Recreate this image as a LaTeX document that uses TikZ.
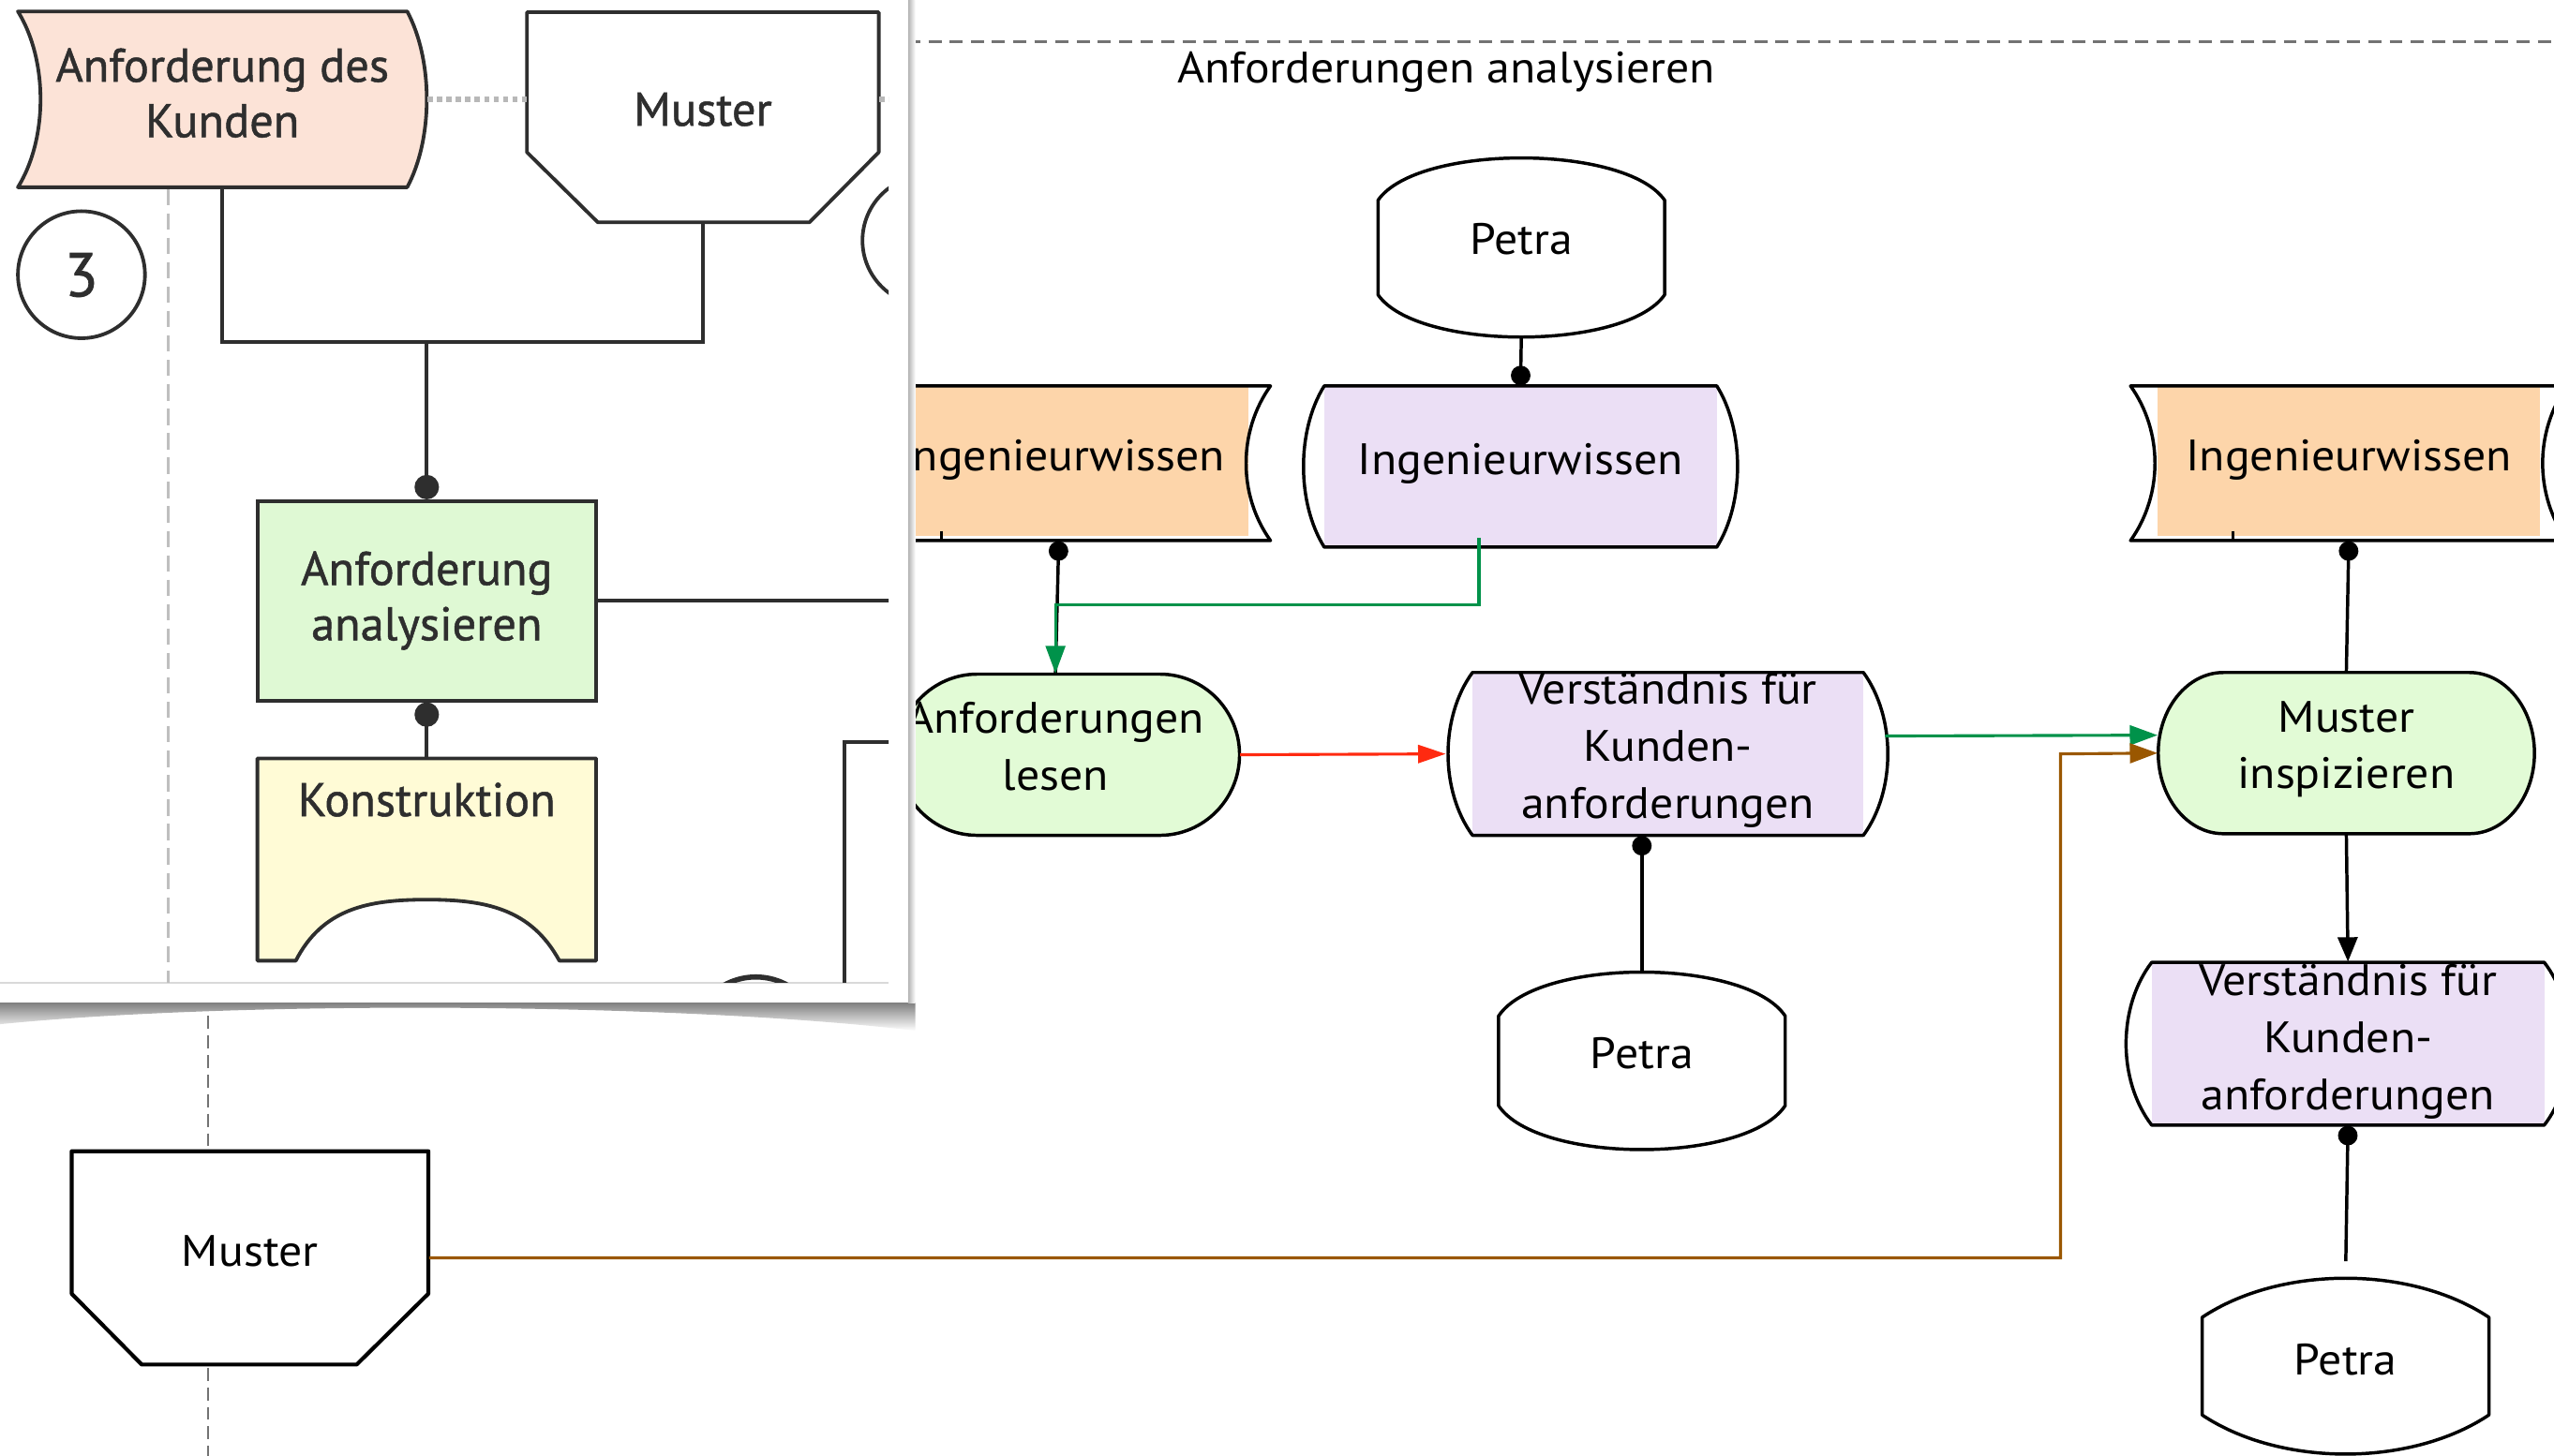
\documentclass[tikz,border=0pt]{standalone}
\usepackage{fontspec}
\setmainfont{PT Sans}[FakeStretch=1.06]
\newfontfamily\insetfont{PT Sans}[FakeBold=1]
\usetikzlibrary{arrows.meta}

\pgfdeclarelayer{shapes}
\pgfdeclarelayer{panel}
\pgfdeclarelayer{paneltop}
\pgfsetlayers{shapes,main,panel,paneltop}

\definecolor{lavc}{HTML}{EBDFF5}
\definecolor{orc}{HTML}{FDD5AA}
\definecolor{grc}{HTML}{E2FBD6}
\definecolor{pinkc}{HTML}{FCE3D7}
\definecolor{igrc}{HTML}{DFF9D4}
\definecolor{yelc}{HTML}{FFFBD6}
\definecolor{garr}{HTML}{00924A}
\definecolor{rarr}{HTML}{FF2A10}
\definecolor{barr}{HTML}{9A5700}
\definecolor{inkc}{HTML}{2E2E2E}

\newcommand{\mainsz}{\fontsize{13.5pt}{17.5pt}\selectfont}
\newcommand{\insetsz}{\insetfont\fontsize{14.5pt}{17pt}\selectfont}
% text block whose last baseline sits #1 above the node centre
\newcommand{\lifted}[2]{\raisebox{#1}[0pt][0pt]{\begin{tabular}[b]{@{}c@{}}#2\end{tabular}}}

% outlines drawn around named nodes, coordinates relative to the node centre
\newcommand{\lensshape}[4]{%
  \fill[lavc,shift={(#1.center)}] (-#2,-#3) rectangle (#2,#3);
  \draw[shapeline,shift={(#1.center)}] (-#2,-#3) -- (#2,-#3)
    .. controls ({#2+#4},{-0.45*#3}) and ({#2+#4},{0.45*#3}) .. (#2,#3)
    -- (-#2,#3)
    .. controls ({-#2-#4},{0.45*#3}) and ({-#2-#4},{-0.45*#3}) .. (-#2,-#3) -- cycle;}
\newcommand{\concaveshape}[4]{%
  \fill[orc] (#1.north west) rectangle (#1.south east);
  \draw[shapeline,shift={(#1.center)}] (-#2,-46) -- (#2,-46)
    .. controls ({#2-#3},-18) and ({#2-#3},21) .. (#2,49)
    -- (-#2,49)
    .. controls ({-#2+#3},21) and ({-#2+#3},-18) .. (-#2,-46) -- cycle;
  \draw[shapeline,shift={(#1.center)}] (#4,43) -- (#4,49);}
\newcommand{\petrashape}[4]{%
  \draw[shapeline,shift={(#1.center)}] (-88,{-#2+#3})
    .. controls (-#4,{-#2-#3/3}) and (#4,{-#2-#3/3}) .. (88,{-#2+#3})
    -- (88,{#2-#3})
    .. controls (#4,{#2+#3/3}) and (-#4,{#2+#3/3}) .. (-88,{#2-#3}) -- cycle;}
\newcommand{\stadiumshape}[4]{%
  \draw[shapeline,fill=grc,shift={(#1.center)}] ({-#2+#4},-#3) -- ({#2-#4},-#3)
    .. controls ({#2-0.4477*#4},-#3) and (#2,{-0.5523*#3}) .. (#2,0)
    .. controls (#2,{0.5523*#3}) and ({#2-0.4477*#4},#3) .. ({#2-#4},#3)
    -- ({-#2+#4},#3)
    .. controls ({-#2+0.4477*#4},#3) and (-#2,{0.5523*#3}) .. (-#2,0)
    .. controls (-#2,{-0.5523*#3}) and ({-#2+0.4477*#4},-#3) .. ({-#2+#4},-#3) -- cycle;}

\begin{document}
\begin{tikzpicture}[x=0.5pt,y=-0.5pt,
  lbl/.style={inner sep=0pt, font=\mainsz, text=black},
  ilbl/.style={inner sep=0pt, font=\insetsz, text=inkc},
  shapeline/.style={draw=black, line width=1pt, line join=round},
  link/.style={draw=black, line width=1pt},
  dotS/.style={{Circle[length=6pt]}-},
  dotE/.style={-{Circle[length=6pt]}},
  garrow/.style={draw=garr, line width=0.9pt, -{Triangle[length=8.5pt,width=6pt]}},
  rarrow/.style={draw=rarr, line width=0.9pt, -{Triangle[length=8.5pt,width=5.5pt]}},
  barrow/.style={draw=barr, line width=0.9pt, -{Triangle[length=8.5pt,width=6pt]}},
  karrow/.style={-{Triangle[length=7.5pt,width=6pt]}},
  ilink/.style={draw=inkc, line width=1.1pt},
  idotS/.style={{Circle[length=7.5pt]}-},
  idotE/.style={-{Circle[length=7.5pt]}},
  idotted/.style={draw=black!28, line width=1.6pt, dash pattern=on 1.6pt off 1.3pt},
  topdash/.style={draw=black!55, line width=1pt, dash pattern=on 4pt off 2.5pt},
  lanedash/.style={draw=black!55, line width=0.6pt, dash pattern=on 4pt off 2pt},
  insetdash/.style={draw=black!25, line width=0.8pt, dash pattern=on 5pt off 2.5pt}]

\useasboundingbox (0,0) rectangle (1568,894);

% ---------- process chain: nodes ----------
\node[lbl] (title) at (888,44) {Anforderungen analysieren};
\node[lbl, minimum width=88pt, minimum height=55pt] (pt1) at (934,152) {\lifted{-2.2pt}{Petra}};
\node[lbl, minimum width=120.5pt, minimum height=49.5pt] (lv1) at (933.5,286.5) {\lifted{-2.45pt}{Ingenieurwissen}};
\node[lbl, minimum width=116pt, minimum height=46pt] (or1) at (650,283) {\kern2pt\lifted{-3.2pt}{Ingenieurwissen}};
\node[lbl, minimum width=117pt, minimum height=46pt] (or2) at (1442,283) {\lifted{-3.2pt}{Ingenieurwissen}};
\node[lbl, minimum width=105pt, minimum height=49.5pt] (al) at (656,463.5) {\kern-8pt\lifted{-10.95pt}{Anforderungen\\lesen}};
\node[lbl, minimum width=120pt, minimum height=50pt] (vs1) at (1024,463) {\lifted{-19.7pt}{Verständnis für\\Kunden-\\anforderungen}};
\node[lbl, minimum width=88pt, minimum height=54.5pt] (pt2) at (1008,651.5) {\lifted{-2.45pt}{Petra}};
\node[lbl, minimum width=115.5pt, minimum height=49.5pt] (mi) at (1440.5,462.5) {\lifted{-10.95pt}{Muster\\inspizieren}};
\node[lbl, minimum width=120.5pt, minimum height=50pt] (vs2) at (1441.5,641) {\lifted{-20.2pt}{Verständnis für\\Kunden-\\anforderungen}};
\node[lbl, minimum width=88pt, minimum height=54pt] (pt3) at (1440,839) {\lifted{-2.7pt}{Petra}};
\node[lbl, minimum width=109.5pt, minimum height=65.5pt] (mu2) at (153.5,772.5) {\lifted{-2.45pt}{Muster}};
\coordinate (bx) at (1265,463);

% ---------- process chain: connectors ----------
\draw[link,dotE] (pt1.south) -- (lv1.north);
\draw[link,dotS] ([yshift=-1.5pt]or1.south) -- ([xshift=-4pt]al.north);
\draw[garrow] ([xshift=-12.75pt,yshift=3pt]lv1.south) -- ++(0,41) -| ([xshift=-4pt]al.north);
\draw[rarrow] (al.east) -- ([xshift=-8pt]vs1.west);
\draw[link,dotS] (vs1.south -| pt2.north) -- (pt2.north);
\draw[garrow] ([xshift=6.5pt,yshift=5.5pt]vs1.east) -- ([yshift=5.5pt]mi.west);
\draw[barrow] (mu2.east) -| (bx) -- (mi.west);
\draw[link,dotS] ([yshift=-1.5pt]or2.south) -- (mi.north);
\draw[link,karrow] (mi.south) -- (vs2.north);
\draw[link,dotS,shorten >=5pt] (vs2.south) -- (pt3.north);

% ---------- process chain: shapes ----------
\begin{pgfonlayer}{shapes}
  \draw[topdash] (557,25.5) -- (1568,25.5);
  \draw[lanedash] (128,612) -- (128,894);
  \petrashape{pt1}{55}{26}{64}
  \lensshape{lv1}{120.5}{49.5}{17}
  \concaveshape{or1}{130}{20}{-72}
  \concaveshape{or2}{134}{20}{-71}
  \stadiumshape{al}{105}{49.5}{49}
  \lensshape{vs1}{120}{50}{20}
  \petrashape{pt2}{54.5}{27}{64}
  \stadiumshape{mi}{115.5}{49.5}{40}
  \lensshape{vs2}{120.5}{50}{21}
  \petrashape{pt3}{54}{24}{40}
  \draw[shapeline,line width=1.2pt,fill=white,shift={(mu2.center)}]
    (-109.5,-65.5) -- (109.5,-65.5) -- (109.5,22) -- (65.5,65.5)
    -- (-66.5,65.5) -- (-109.5,22) -- cycle;
\end{pgfonlayer}

% ---------- overview panel: nodes and connectors ----------
\begin{pgfonlayer}{paneltop}
\begin{scope}
  \clip (0,0) rectangle (545.6,603.5);
  \node[ilbl, minimum width=125.5pt, minimum height=54pt] (pink) at (136.5,61) {\lifted{-11.6pt}{Anforderung des\\Kunden}};
  \node[ilbl, minimum width=108pt, minimum height=64.5pt] (mus1) at (431.5,72) {\lifted{-2.6pt}{Muster}};
  \node[ilbl, circle, draw=inkc, line width=1.1pt, minimum size=39pt, font=\insetfont\fontsize{19pt}{22pt}\selectfont] (c3) at (50,168.7) {\lifted{-6.65pt}{3}};
  \node[ilbl, draw=inkc, fill=igrc, line width=1.1pt, minimum width=104pt, minimum height=61.25pt] (ana) at (262,369) {\lifted{-12.1pt}{Anforderung\\analysieren}};
  \node[ilbl, minimum width=104pt, minimum height=62.25pt] (kon) at (262,528) {\lifted{13.4pt}{Konstruktion}};
  \node[circle, draw=inkc, line width=1.1pt, minimum size=40pt, inner sep=0pt] (cr) at (569.5,147.7) {};
  \node[circle, draw=inkc, line width=1.6pt, minimum size=40pt, inner sep=0pt] (cb) at (464,640) {};
  \node[draw=inkc, line width=1.1pt, minimum width=104pt, minimum height=100pt] (rb) at (622.5,555.8) {};
  \coordinate (jn) at (262,210);
  \coordinate (anaout) at (620,369);
  \draw[ilink] (pink.south) |- (jn) -| (mus1.south);
  \draw[ilink,idotE] (jn) -- (ana.north);
  \draw[ilink,idotS] (ana.south) -- (kon.north);
  \draw[ilink] (ana.east) -- (anaout);
  \draw[idotted] (pink.east) -- (pink.east -| mus1.west);
  \draw[idotted] (pink.east -| mus1.east) -- ++(25,0);
\end{scope}
\end{pgfonlayer}

% ---------- overview panel: sheet, shadow and shapes ----------
\begin{pgfonlayer}{panel}
  \shade[top color=black!55, bottom color=white]
    (0,615) -- (562,615) -- (562,633) .. controls (420,616) and (150,614) .. (0,629) -- cycle;
  \shade[left color=black!30, right color=white] (557.5,0) rectangle (562,616);
  \fill[white] (0,0) rectangle (557.5,615.6);
  \draw[black!15, line width=0.5pt] (0,603.5) -- (545.6,603.5);
  \begin{scope}
    \clip (0,0) rectangle (545.6,603.5);
    \draw[insetdash] (103.5,116) -- (103.5,603.5);
    \draw[ilink, fill=pinkc, line join=round, shift={(pink.center)}]
      (-125.5,-54) -- (113.5,-54) .. controls (129.5,-24) and (129.5,24) .. (113.5,54)
      -- (-125.5,54) .. controls (-107,24) and (-107,-24) .. (-125.5,-54) -- cycle;
    \draw[ilink, fill=white, line join=round, shift={(mus1.center)}]
      (-108,-64.5) -- (108,-64.5) -- (108,21.5) -- (65.5,64.5)
      -- (-64.5,64.5) -- (-108,21.5) -- cycle;
    \draw[ilink, fill=yelc, line join=round, shift={(kon.center)}]
      (-104,-62.25) -- (104,-62.25) -- (104,62) -- (81.4,62)
      .. controls (64,30) and (36,24.5) .. (0,24.5)
      .. controls (-36,24.5) and (-64,30) .. (-80.4,62)
      -- (-104,62) -- cycle;
  \end{scope}
\end{pgfonlayer}

\end{tikzpicture}
\end{document}
